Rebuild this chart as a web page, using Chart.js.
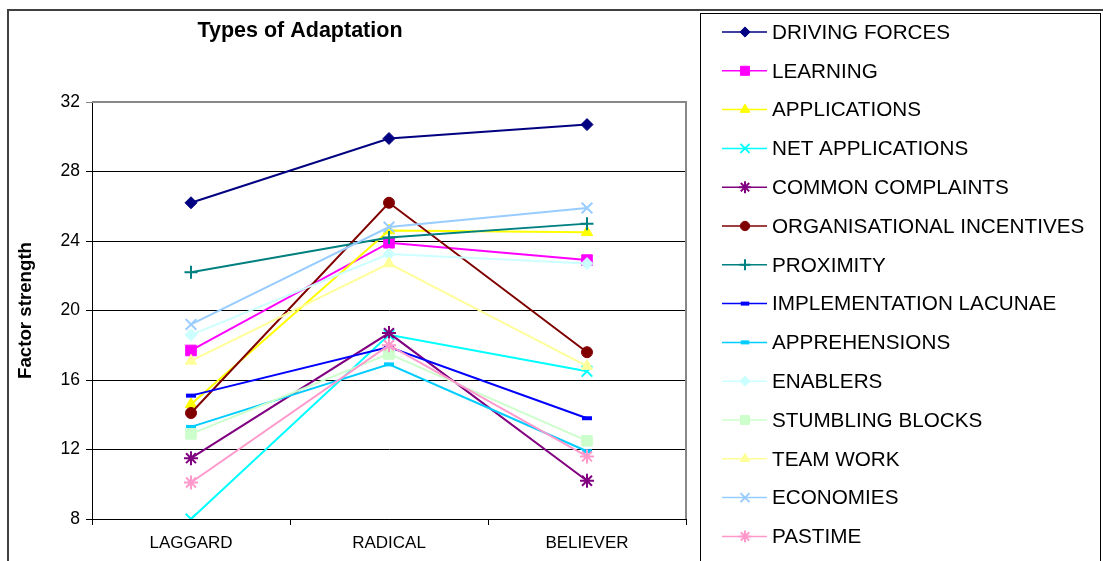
<!DOCTYPE html>
<html>
<head>
<meta charset="utf-8">
<script src="https://cdn.jsdelivr.net/npm/chart.js@4/dist/chart.umd.min.js"></script>
<style>
  body { margin: 0; background: #fff; }
  #wrap { width: 1103px; height: 561px; position: relative; }
</style>
</head>
<body>
<div id="wrap"><canvas id="adaptation-chart"></canvas></div>
<script>
const categories = ['LAGGARD', 'RADICAL', 'BELIEVER'];
const yTicks = [8, 12, 16, 20, 24, 28, 32];

const seriesNames = ['DRIVING FORCES', 'LEARNING', 'APPLICATIONS', 'NET APPLICATIONS',
    'COMMON COMPLAINTS', 'ORGANISATIONAL INCENTIVES', 'PROXIMITY', 'IMPLEMENTATION LACUNAE',
    'APPREHENSIONS', 'ENABLERS', 'STUMBLING BLOCKS', 'TEAM WORK', 'ECONOMIES', 'PASTIME'];

const drivingForces = [26.2, 29.9, 30.7];
const learning = [17.7, 23.9, 22.9];
const applications = [14.6, 24.6, 24.5];
const netApplications = [8.0, 18.6, 16.5];
const commonComplaints = [11.5, 18.7, 10.2];
const orgIncentives = [14.1, 26.2, 17.6];
const proximity = [22.2, 24.2, 25.0];
const implementationLacunae = [15.1, 17.9, 13.8];
const apprehensions = [13.3, 16.9, 11.9];
const enablers = [18.6, 23.25, 22.7];
const stumblingBlocks = [12.9, 17.5, 12.5];
const teamWork = [17.1, 22.7, 16.8];
const economies = [19.2, 24.8, 25.9];
const pastime = [10.1, 18.0, 11.6];

const seriesValues = [drivingForces, learning, applications, netApplications, commonComplaints,
    orgIncentives, proximity, implementationLacunae, apprehensions, enablers, stumblingBlocks,
    teamWork, economies, pastime];

// marker look per series (Excel default order)
const seriesColors = ['#000080', '#FF00FF', '#FFFF00', '#00FFFF', '#800080', '#800000', '#008080',
    '#0000FF', '#00CCFF', '#CCFFFF', '#CCFFCC', '#FFFF99', '#99CCFF', '#FF99CC'];
const seriesMarkers = ['rectRot', 'rect', 'triangle', 'crossRot', 'star', 'circle', 'cross',
    'line', 'line', 'rectRot', 'rect', 'triangle', 'crossRot', 'star'];

const FONT = "'Liberation Sans', Arial, sans-serif";

function markerRadius(style) {
    switch (style) {
        case 'rectRot': return 6;
        case 'rect': return 7.5;
        case 'triangle': return 6.5;
        case 'crossRot': return 7.5;
        case 'star': return 7;
        case 'circle': return 5.5;
        case 'cross': return 6.5;
        case 'line': return 5;
    }
    return 5;
}
function markerBorder(style) {
    if (style === 'line') return 4;
    if (style === 'crossRot' || style === 'star' || style === 'cross') return 2;
    return 1;
}

const framePlugin = {
    id: 'framePlugin',
    afterDraw(chart) {
        const ctx = chart.ctx;
        const area = chart.chartArea;
        ctx.save();
        // plot area right/top edge
        ctx.strokeStyle = '#888';
        ctx.lineWidth = 2;
        ctx.beginPath();
        ctx.moveTo(area.left, area.top);
        ctx.lineTo(area.right, area.top);
        ctx.lineTo(area.right, area.bottom);
        ctx.stroke();

        // outer chart frame
        ctx.strokeStyle = '#404040';
        ctx.lineWidth = 2;
        ctx.beginPath();
        ctx.moveTo(8, 600);
        ctx.lineTo(8, 10);
        ctx.lineTo(1110, 10);
        ctx.stroke();

        // title
        ctx.fillStyle = '#000';
        ctx.font = 'bold 21.5px ' + FONT;
        ctx.textAlign = 'center';
        ctx.textBaseline = 'middle';
        ctx.fillText('Types of Adaptation', 300, 31);

        // legend box
        ctx.strokeStyle = '#000';
        ctx.lineWidth = 1;
        ctx.strokeRect(700.5, 13.5, 400, 600);

        ctx.font = '20.7px ' + FONT;
        ctx.textAlign = 'left';
        chart.data.datasets.forEach((ds, i) => {
            const y = 32 + i * 38.8;
            ctx.strokeStyle = ds.borderColor;
            ctx.lineWidth = 1.5;
            ctx.beginPath();
            ctx.moveTo(722, y);
            ctx.lineTo(767, y);
            ctx.stroke();
            ctx.fillStyle = ds.pointBackgroundColor;
            ctx.strokeStyle = ds.pointBorderColor;
            ctx.lineWidth = ds.pointBorderWidth;
            Chart.helpers.drawPoint(ctx, {
                pointStyle: ds.pointStyle,
                radius: ds.pointRadius * 0.85,
                rotation: 0,
                borderWidth: ds.pointBorderWidth
            }, 745, y);
            ctx.fillStyle = '#000';
            ctx.fillText(ds.label, 772, y + 1);
        });
        ctx.restore();
    }
};

function initChart() {
    const ctx = document.getElementById('adaptation-chart').getContext('2d');
    const datasets = seriesNames.map((name, i) => ({
        label: name,
        data: seriesValues[i],
        borderColor: seriesColors[i],
        backgroundColor: seriesColors[i],
        borderWidth: 2,
        pointStyle: seriesMarkers[i],
        pointRadius: markerRadius(seriesMarkers[i]),
        pointBorderWidth: markerBorder(seriesMarkers[i]),
        pointBackgroundColor: seriesColors[i],
        pointBorderColor: seriesColors[i],
        tension: 0,
        order: seriesNames.length - i
    }));

    new Chart(ctx, {
        type: 'line',
        data: { labels: categories, datasets: datasets },
        options: {
            responsive: true,
            maintainAspectRatio: false,
            animation: false,
            layout: { padding: { top: 102, right: 417, left: 0, bottom: 0 } },
            plugins: {
                legend: { display: false },
                title: { display: false },
                tooltip: { enabled: false }
            },
            scales: {
                x: {
                    offset: true,
                    grid: {
                        offset: true,
                        drawOnChartArea: false,
                        drawTicks: true,
                        tickLength: 6,
                        color: '#000'
                    },
                    border: { display: true, color: '#000', width: 1 },
                    ticks: {
                        color: '#000',
                        padding: 8,
                        font: { family: FONT, size: 17 }
                    },
                    afterFit(scale) { scale.height = 42; }
                },
                y: {
                    min: yTicks[0],
                    max: yTicks[yTicks.length - 1],
                    afterBuildTicks(scale) {
                        scale.ticks = yTicks.map(v => ({ value: v }));
                    },
                    grid: {
                        color: c => (c.tick && c.tick.value === 32 ? '#888' : '#000'),
                        lineWidth: 1,
                        tickLength: 6,
                        drawTicks: true
                    },
                    border: { display: true, color: '#000', width: 1 },
                    ticks: {
                        color: '#000',
                        padding: 6,
                        font: { family: FONT, size: 17.5 }
                    },
                    title: {
                        display: true,
                        text: 'Factor strength',
                        color: '#000',
                        font: { family: FONT, size: 18.7, weight: 'bold' },
                        padding: { top: 15, bottom: 0 }
                    },
                    afterFit(scale) { scale.width = 92; }
                }
            }
        },
        plugins: [framePlugin]
    });
}

document.addEventListener('DOMContentLoaded', () => {
    initChart();
});
</script>
</body>
</html>
